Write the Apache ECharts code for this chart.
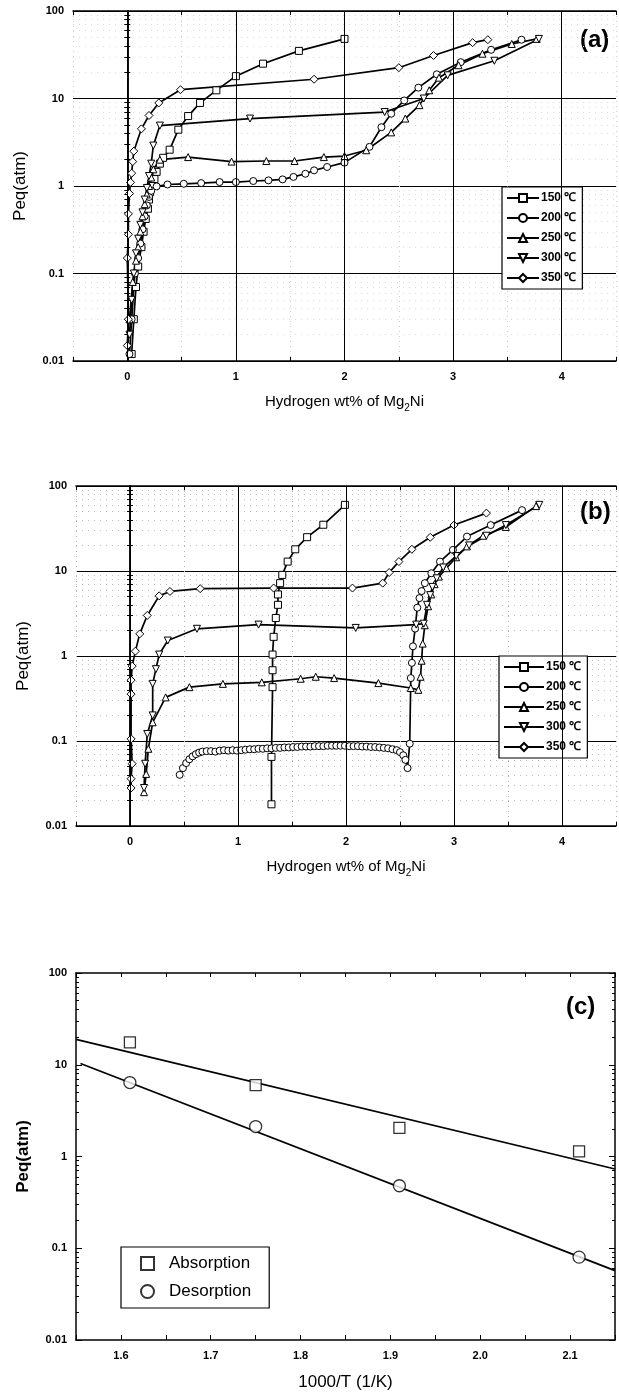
<!DOCTYPE html>
<html>
<head>
<meta charset="utf-8">
<title>Peq of Mg2Ni</title>
<script src="https://cdn.jsdelivr.net/npm/echarts@6/dist/echarts.min.js"></script>
<style>
  html, body { margin: 0; padding: 0; background: #fff; }
  #chart { width: 619px; height: 1396px; }
</style>
</head>
<body>
<div id="chart"></div>
<script type="text/javascript">
// ---- panel (a) ----
var a150 = [[0.04,0.012],[0.06,0.03],[0.08,0.07],[0.1,0.12],[0.13,0.2],[0.15,0.3],[0.17,0.42],[0.19,0.55],[0.2,0.7],[0.21,0.85],[0.23,1.0],[0.25,1.2],[0.27,1.45],[0.3,1.8],[0.33,2.1],[0.39,2.6],[0.47,4.4],[0.56,6.3],[0.67,8.9],[0.82,12.4],[1.0,18],[1.25,25],[1.58,35],[2.0,48]];
var a200 = [[0.02,0.012],[0.04,0.03],[0.07,0.1],[0.1,0.15],[0.12,0.22],[0.14,0.32],[0.16,0.45],[0.18,0.6],[0.2,0.75],[0.22,0.88],[0.27,0.99],[0.37,1.04],[0.52,1.06],[0.68,1.08],[0.85,1.11],[1.0,1.11],[1.16,1.14],[1.3,1.16],[1.43,1.19],[1.53,1.27],[1.64,1.38],[1.72,1.51],[1.84,1.65],[2.0,1.85],[2.23,2.8],[2.34,4.7],[2.43,6.7],[2.55,9.5],[2.68,13.3],[2.85,18.9],[3.07,26],[3.35,36],[3.63,47]];
var a250 = [[0.02,0.03],[0.05,0.08],[0.08,0.14],[0.1,0.2],[0.12,0.3],[0.14,0.45],[0.16,0.62],[0.18,0.8],[0.2,1.0],[0.22,1.25],[0.24,1.55],[0.3,2.0],[0.56,2.14],[0.96,1.9],[1.28,1.93],[1.54,1.93],[1.81,2.14],[2.0,2.2],[2.2,2.56],[2.43,4.1],[2.56,5.9],[2.69,8.4],[2.78,12.4],[2.87,17.3],[3.05,24],[3.27,32.5],[3.54,42],[3.77,48]];
var a300 = [[0.02,0.02],[0.04,0.05],[0.06,0.1],[0.08,0.17],[0.1,0.25],[0.12,0.36],[0.14,0.5],[0.16,0.7],[0.18,0.95],[0.2,1.3],[0.22,1.8],[0.24,2.9],[0.3,4.9],[1.13,5.9],[2.37,7.0],[2.73,10],[2.95,18.4],[3.38,27],[3.79,48]];
var a350 = [[0.0,0.015],[0.01,0.03],[0.0,0.15],[0.01,0.28],[0.01,0.48],[0.02,0.82],[0.03,1.1],[0.04,1.4],[0.05,1.9],[0.06,2.5],[0.13,4.5],[0.2,6.4],[0.29,8.9],[0.49,12.6],[1.72,16.6],[2.5,22.5],[2.82,31],[3.18,43.5],[3.32,47]];

// ---- panel (b) ----
var b150 = [[1.31,0.018],[1.31,0.065],[1.32,0.43],[1.32,0.68],[1.32,1.04],[1.33,1.68],[1.35,2.8],[1.37,4.0],[1.37,5.3],[1.39,7.2],[1.41,9.0],[1.46,12.9],[1.53,18],[1.64,25],[1.79,35],[1.99,60]];
var b200 = [[0.46,0.04],[0.49,0.048],[0.52,0.055],[0.55,0.061],[0.58,0.066],[0.61,0.07],[0.64,0.073],[0.67,0.075],[0.71,0.076],[0.75,0.076],[0.79,0.075],[0.83,0.077],[0.87,0.078],[0.91,0.077],[0.95,0.078],[0.99,0.077],[1.03,0.078],[1.07,0.079],[1.11,0.08],[1.15,0.08],[1.19,0.081],[1.23,0.081],[1.27,0.082],[1.31,0.082],[1.35,0.083],[1.39,0.083],[1.43,0.084],[1.47,0.084],[1.51,0.085],[1.55,0.085],[1.59,0.086],[1.63,0.086],[1.67,0.086],[1.71,0.087],[1.75,0.087],[1.79,0.087],[1.83,0.088],[1.87,0.088],[1.91,0.088],[1.95,0.088],[1.99,0.088],[2.03,0.087],[2.07,0.087],[2.11,0.087],[2.15,0.086],[2.19,0.086],[2.23,0.085],[2.27,0.085],[2.31,0.084],[2.35,0.083],[2.39,0.082],[2.43,0.08],[2.47,0.078],[2.5,0.074],[2.53,0.068],[2.55,0.06],[2.57,0.048],[2.59,0.093],[2.6,0.55],[2.61,0.83],[2.62,1.3],[2.64,2.1],[2.66,3.7],[2.68,4.8],[2.7,5.8],[2.73,7.2],[2.79,9.4],[2.87,12.9],[2.99,17.7],[3.12,25.4],[3.34,34.7],[3.63,52]];
var b250 = [[0.13,0.025],[0.15,0.041],[0.17,0.081],[0.21,0.166],[0.33,0.326],[0.55,0.43],[0.86,0.47],[1.22,0.49],[1.58,0.54],[1.72,0.57],[1.89,0.55],[2.3,0.48],[2.6,0.42],[2.67,0.4],[2.69,0.57],[2.7,0.88],[2.71,1.4],[2.73,2.3],[2.76,3.85],[2.79,5.3],[2.82,7.0],[2.86,8.6],[2.93,10.8],[3.02,14.5],[3.12,19.5],[3.27,26],[3.48,33],[3.76,58]];
var b300 = [[0.13,0.028],[0.14,0.054],[0.16,0.121],[0.21,0.2],[0.21,0.47],[0.24,0.7],[0.27,1.04],[0.35,1.52],[0.62,2.09],[1.19,2.34],[2.09,2.14],[2.65,2.34],[2.72,2.4],[2.75,4.0],[2.78,5.2],[2.8,6.5],[2.84,8.2],[2.9,11],[3.02,15],[3.14,20],[3.3,26],[3.48,34.7],[3.79,60]];
var b350 = [[0.01,0.028],[0.01,0.036],[0.02,0.054],[0.01,0.106],[0.01,0.356],[0.01,0.52],[0.02,0.76],[0.05,1.14],[0.09,1.82],[0.16,3.0],[0.27,5.1],[0.37,5.75],[0.65,6.2],[1.33,6.3],[2.06,6.3],[2.34,7.2],[2.4,9.6],[2.49,12.9],[2.61,18],[2.78,24.9],[3.0,34.7],[3.3,48]];

// ---- panel (c) ----
var invT = [1.61, 1.75, 1.91, 2.11];
var absorption = [17.5, 6.0, 2.05, 1.14];
var desorption = [6.4, 2.12, 0.48, 0.08];
var absFit = [[1.55, 18.9], [2.15, 0.73]];
var desFit = [[1.555, 10.3], [2.15, 0.057]];

var tempNames = ['150 ℃', '200 ℃', '250 ℃', '300 ℃', '350 ℃'];
var tempSymbols = ['rect', 'circle', 'triangle', 'path://M0,0 L10,0 L5,9 Z', 'diamond'];
var xMajor = [0, 1, 2, 3, 4];

var FONT = 'Liberation Sans';
var chart = echarts.init(document.getElementById('chart'));

function pairs(xs, ys) {
    return xs.map(function (x, i) { return [x, ys[i]]; });
}

function tempSeries(data, k, gi) {
    return {
        name: tempNames[k],
        type: 'line',
        xAxisIndex: gi * 2,
        yAxisIndex: gi * 2,
        data: data,
        symbol: tempSymbols[k],
        symbolSize: k === 4 ? 8 : 7,
        z: 3,
        itemStyle: { color: '#fff', borderColor: '#000', borderWidth: 1 },
        lineStyle: { color: '#000', width: 1.7 },
        emphasis: { disabled: true }
    };
}

// integer grid lines for panels (a),(b) drawn via markLine on an empty helper series
function gridLines(gi) {
    return {
        type: 'line',
        xAxisIndex: gi * 2,
        yAxisIndex: gi * 2,
        data: [],
        z: 1,
        silent: true,
        markLine: {
            silent: true,
            symbol: 'none',
            label: { show: false },
            lineStyle: { color: '#000', width: 1, type: 'solid' },
            data: xMajor.map(function (v) { return { xAxis: v }; })
        }
    };
}

function hydXAxis(gi, minorColor) {
    return {
        gridIndex: gi,
        type: 'value',
        min: -0.5, max: 4.5, interval: 0.5,
        position: 'bottom',
        axisLine: { lineStyle: { color: '#000', width: 1.5 } },
        axisTick: { inside: true, length: 4, lineStyle: { color: '#000' } },
        axisLabel: {
            color: '#000', fontFamily: FONT, fontWeight: 'bold', fontSize: 11, margin: 10,
            formatter: function (v) { return Math.abs(v - Math.round(v)) < 1e-6 ? String(Math.round(v)) : ''; }
        },
        splitLine: { show: true, lineStyle: { color: minorColor, type: [1, 4], width: 1 } },
        name: 'Hydrogen wt% of Mg{s|2}Ni',
        nameLocation: 'middle',
        nameGap: 30,
        nameTextStyle: {
            color: '#000', fontFamily: FONT, fontSize: 15,
            rich: { s: { fontFamily: FONT, fontSize: 10, verticalAlign: 'bottom', padding: [12, 0, 0, 0] } }
        }
    };
}

function topXAxis(gi, min, max, interval) {
    return {
        gridIndex: gi, type: 'value', min: min, max: max, interval: interval,
        position: 'top',
        axisLine: { lineStyle: { color: '#000', width: 1.5 } },
        axisTick: { inside: true, length: 4, lineStyle: { color: '#000' } },
        axisLabel: { show: false },
        splitLine: { show: false }
    };
}

function logYAxis(gi, minorColor, showGrid, nameBold) {
    return {
        gridIndex: gi,
        type: 'log', logBase: 10, min: 0.01, max: 100,
        position: 'left',
        axisLine: { lineStyle: { color: '#000', width: 1.5 } },
        axisTick: { inside: true, length: 6, lineStyle: { color: '#000' } },
        minorTick: { show: true, splitNumber: 9, length: 3, lineStyle: { color: '#000' } },
        axisLabel: {
            color: '#000', fontFamily: FONT, fontWeight: 'bold', fontSize: 11, margin: 9,
            formatter: function (v) { return String(v); }
        },
        splitLine: { show: showGrid, lineStyle: { color: '#000', width: 1 } },
        minorSplitLine: { show: showGrid, lineStyle: { color: minorColor, type: [1, 5], width: 1 } },
        name: 'Peq(atm)',
        nameLocation: 'middle',
        nameGap: 44,
        nameTextStyle: { color: '#000', fontFamily: FONT, fontSize: 17, fontWeight: nameBold ? 'bold' : 'normal' }
    };
}

function rightYAxis(gi) {
    return {
        gridIndex: gi,
        type: 'log', logBase: 10, min: 0.01, max: 100,
        position: 'right',
        axisLine: { lineStyle: { color: '#000', width: 1.5 } },
        axisTick: { inside: true, length: 6, lineStyle: { color: '#000' } },
        minorTick: { show: true, splitNumber: 9, length: 3, lineStyle: { color: '#000' } },
        axisLabel: { show: false },
        splitLine: { show: false }
    };
}

function tempLegend(left, top, itemWidth) {
    return {
        orient: 'vertical',
        left: left, top: top,
        data: tempNames,
        backgroundColor: '#fff',
        borderColor: '#000', borderWidth: 1.2, borderRadius: 0,
        padding: [5, 6, 5, 4],
        itemGap: 8,
        itemWidth: itemWidth, itemHeight: 10,
        selectedMode: false,
        textStyle: { color: '#000', fontFamily: FONT, fontWeight: 'bold', fontSize: 12, padding: [0, 0, 0, -3] }
    };
}

var xC = {
    gridIndex: 2, type: 'value', min: 1.55, max: 2.15, interval: 0.05,
    position: 'bottom',
    axisLine: { lineStyle: { color: '#000', width: 1.5 } },
    axisTick: { inside: true, length: 5, lineStyle: { color: '#000' } },
    axisLabel: {
        color: '#000', fontFamily: FONT, fontWeight: 'bold', fontSize: 11, margin: 10,
        formatter: function (v) {
            var t = v * 10;
            return Math.abs(t - Math.round(t)) < 1e-6 ? v.toFixed(1) : '';
        }
    },
    splitLine: { show: false },
    name: '1000/T (1/K)',
    nameLocation: 'middle',
    nameGap: 34,
    nameTextStyle: { color: '#000', fontFamily: FONT, fontSize: 17 }
};

var option = {
    animation: false,
    backgroundColor: '#fff',
    grid: [
        { left: 73, top: 11, width: 550, height: 350 },
        { left: 76, top: 486, width: 541, height: 340 },
        { left: 76, top: 973, width: 539, height: 367 }
    ],
    xAxis: [
        hydXAxis(0, '#d0d0d0'), topXAxis(0, -0.5, 4.5, 0.5),
        hydXAxis(1, '#b0b0b0'), topXAxis(1, -0.5, 4.5, 0.5),
        xC, topXAxis(2, 1.55, 2.15, 0.05)
    ],
    yAxis: [
        logYAxis(0, '#dadada', true, false), rightYAxis(0),
        logYAxis(1, '#c0c0c0', true, false), rightYAxis(1),
        logYAxis(2, '#000', false, true), rightYAxis(2)
    ],
    legend: [
        tempLegend(502, 187, 32),
        tempLegend(499, 656, 40),
        {
            orient: 'vertical',
            left: 121, top: 1247,
            data: [
                { name: 'Absorption', icon: 'path://M0,0 H10 V10 H0 Z' },
                { name: 'Desorption', icon: 'circle' }
            ],
            symbolKeepAspect: true,
            backgroundColor: '#fff',
            borderColor: '#000', borderWidth: 1.2, borderRadius: 0,
            padding: [8, 18, 8, 19],
            itemGap: 11,
            itemWidth: 33, itemHeight: 13,
            selectedMode: false,
            textStyle: { color: '#000', fontFamily: FONT, fontSize: 17 }
        }
    ],
    graphic: [
        { type: 'text', left: 580, top: 28, style: { text: '(a)', font: 'bold 24px "Liberation Sans"', fill: '#000' } },
        { type: 'text', left: 580, top: 500, style: { text: '(b)', font: 'bold 24px "Liberation Sans"', fill: '#000' } },
        { type: 'text', left: 566, top: 995, style: { text: '(c)', font: 'bold 24px "Liberation Sans"', fill: '#000' } }
    ],
    series: [
        gridLines(0), gridLines(1),
        tempSeries(a150, 0, 0), tempSeries(a200, 1, 0), tempSeries(a250, 2, 0), tempSeries(a300, 3, 0), tempSeries(a350, 4, 0),
        tempSeries(b150, 0, 1), tempSeries(b200, 1, 1), tempSeries(b250, 2, 1), tempSeries(b300, 3, 1), tempSeries(b350, 4, 1),
        {
            type: 'line', xAxisIndex: 4, yAxisIndex: 4, data: absFit, symbol: 'none',
            lineStyle: { color: '#000', width: 1.7 }, z: 2, silent: true
        },
        {
            type: 'line', xAxisIndex: 4, yAxisIndex: 4, data: desFit, symbol: 'none',
            lineStyle: { color: '#000', width: 1.7 }, z: 2, silent: true
        },
        {
            name: 'Absorption', type: 'scatter', xAxisIndex: 4, yAxisIndex: 4,
            data: pairs(invT, absorption), symbol: 'rect', symbolSize: 11, z: 3,
            itemStyle: { color: '#fff', borderColor: '#000', borderWidth: 1.3 }
        },
        {
            name: 'Desorption', type: 'scatter', xAxisIndex: 4, yAxisIndex: 4,
            data: pairs(invT, desorption), symbol: 'circle', symbolSize: 12, z: 3,
            itemStyle: { color: '#fff', borderColor: '#000', borderWidth: 1.3 }
        }
    ]
};

chart.setOption(option);
</script>
</body>
</html>
